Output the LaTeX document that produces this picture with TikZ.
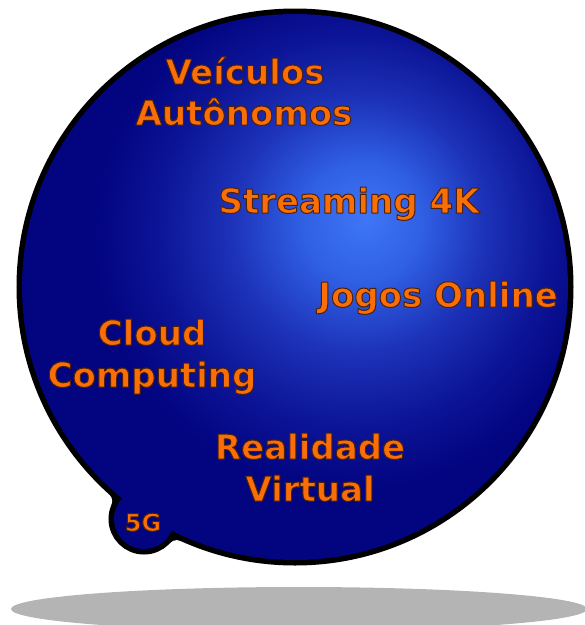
\documentclass[tikz,border=0pt]{standalone}
\usepackage{fontspec}
\setmainfont{DejaVu Sans}

\definecolor{ballA}{RGB}{62,118,246}
\definecolor{ballB}{RGB}{48,96,228}
\definecolor{ballC}{RGB}{28,50,184}
\definecolor{ballD}{RGB}{12,20,150}
\definecolor{ballE}{RGB}{2,4,128}
\definecolor{lblorange}{RGB}{250,110,8}
\definecolor{floorgray}{RGB}{180,180,180}

% radial shading; the path's bounding box spans 50bp, the bright spot sits up and right
\pgfdeclareradialshading{ball}{\pgfpoint{6.5bp}{6.3bp}}{%
  color(0bp)=(ballA); color(5.4bp)=(ballB); color(11.7bp)=(ballC);
  color(18bp)=(ballD); color(23.5bp)=(ballE); color(100bp)=(ballE)}

% orange lettering with a thin dark brown outline (fill-then-stroke text mode)
\newcommand{\lbl}[1]{\textcolor{lblorange}{%
  \special{pdf:literal direct 2 Tr 1.0 w 1 j 0.30 0.13 0.03 RG}#1%
  \special{pdf:literal direct 0 Tr}}}

\tikzset{
  bigtxt/.style={anchor=base, inner sep=0pt,
    font=\bfseries\fontsize{34}{40}\selectfont},
  smalltxt/.style={anchor=base, inner sep=0pt,
    font=\bfseries\fontsize{24}{28}\selectfont},
  rim/.style={draw=black, line width=11pt}
}

\begin{document}
\begin{tikzpicture}[x=1pt, y=-1pt]
  \useasboundingbox (0,0) rectangle (585,625);

  % floor shadow
  \fill[floorgray] (299,609) ellipse (288pt and 22pt);

  % globe, the small 5G bubble and the rounded joins between them
  \coordinate (globe) at (295,287);
  \coordinate (bubble) at (144,519);
  \coordinate (lens) at (146.9,514.5);
  \coordinate (filA) at (103.2,501.2);
  \coordinate (filB) at (176.8,549.1);
  \fill[black] (filA) -- (109.2,494.5) -- (lens) -- (111.5,504.8) -- cycle;
  \fill[black] (filB) -- (180.5,540.9) -- (lens) -- (170.2,543.0) -- cycle;
  \fill[white] (filA) circle (9pt);
  \fill[white] (filB) circle (9pt);
  \draw[rim] (globe) circle (273pt);
  \draw[rim] (bubble) circle (30pt);
  \shade[shading=ball] (globe) circle (273pt) (bubble) circle (30pt);

  % labels
  \node[bigtxt] (veic1) at (245,84)  {\lbl{Veículos}};
  \node[bigtxt] (veic2) at (244,125) {\lbl{Autônomos}};
  \node[bigtxt] (stream) at (349,213) {\lbl{Streaming 4K}};
  \node[bigtxt] (jogos) at (438,307) {\lbl{Jogos Online}};
  \node[bigtxt] (cloud1) at (152,345) {\lbl{Cloud}};
  \node[bigtxt] (cloud2) at (152,387) {\lbl{Computing}};
  \node[bigtxt] (real1) at (310,459) {\lbl{Realidade}};
  \node[bigtxt] (real2) at (310,501) {\lbl{Virtual}};
  \node[smalltxt] (fiveg) at (143,531) {\lbl{5G}};
\end{tikzpicture}
\end{document}
